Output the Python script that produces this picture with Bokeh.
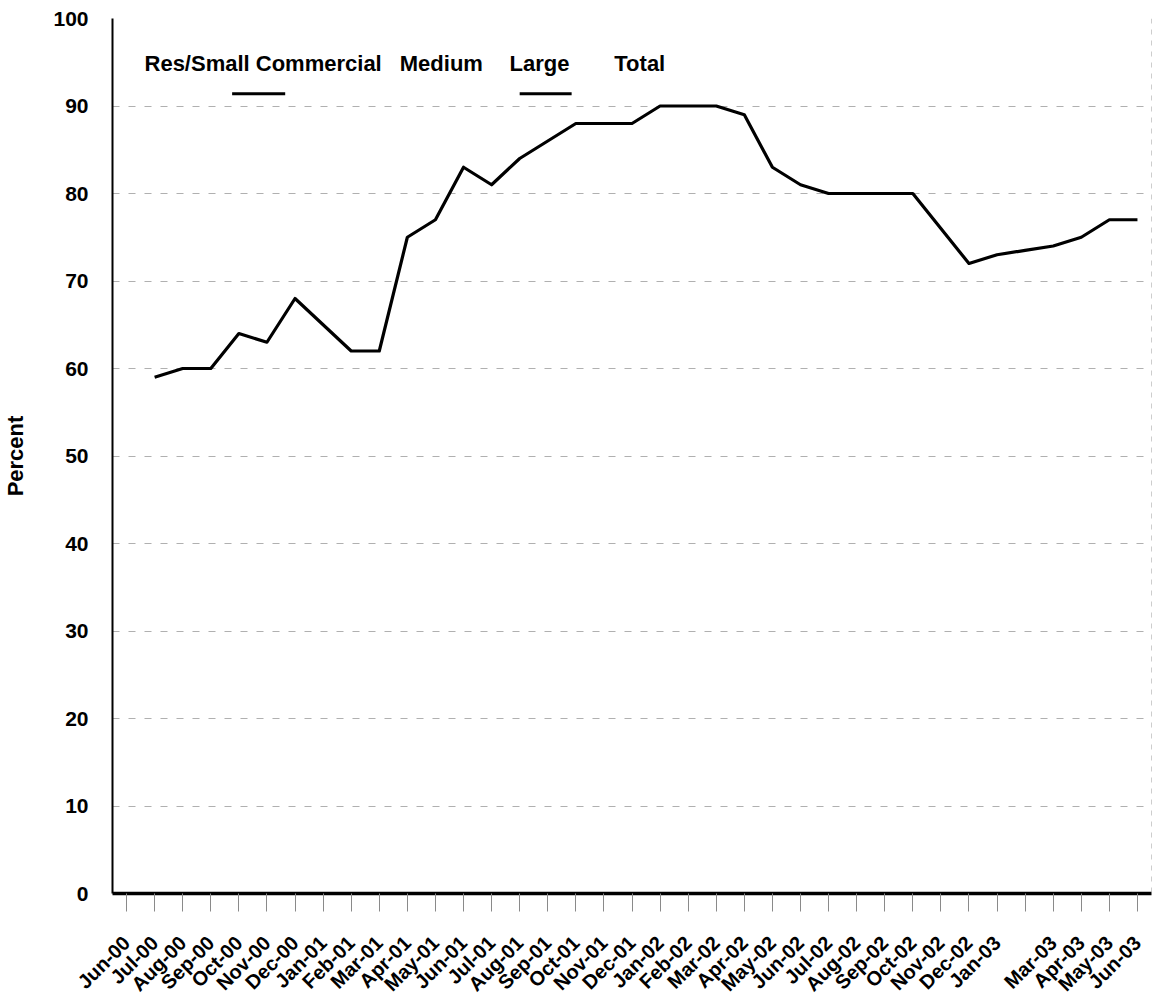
import math
from bokeh.plotting import figure
from bokeh.models import FixedTicker, Label, Span
from bokeh.embed import file_html
from bokeh.resources import INLINE

# Monthly share, percent (Jun-00 has no reading)
months = ["Jun-00", "Jul-00", "Aug-00", "Sep-00", "Oct-00", "Nov-00", "Dec-00",
          "Jan-01", "Feb-01", "Mar-01", "Apr-01", "May-01", "Jun-01", "Jul-01",
          "Aug-01", "Sep-01", "Oct-01", "Nov-01", "Dec-01", "Jan-02", "Feb-02",
          "Mar-02", "Apr-02", "May-02", "Jun-02", "Jul-02", "Aug-02", "Sep-02",
          "Oct-02", "Nov-02", "Dec-02", "Jan-03", "Feb-03", "Mar-03", "Apr-03",
          "May-03", "Jun-03"]
total = [float("nan"), 59, 60, 60, 64, 63, 68,
         65, 62, 62, 75, 77, 83, 81,
         84, 86, 88, 88, 88, 90, 90,
         90, 89, 83, 81, 80, 80, 80,
         80, 76, 72, 73, 73.5, 74, 75,
         77, 77]
# Feb-03 is left without a label on the axis
hidden_labels = ["Feb-03"]
legend_names = ["Res/Small Commercial", "Medium", "Large", "Total"]
y_ticks = list(range(0, 101, 10))

FONT = "Liberation Sans"
xs = list(range(len(months)))

p = figure(width=1157, height=1006, output_backend="svg", toolbar_location=None,
           x_range=(-0.5, len(months) - 0.5), y_range=(0, 100),
           min_border_left=110, min_border_right=6, min_border_top=18,
           min_border_bottom=113)
p.outline_line_color = None
p.background_fill_color = "white"
p.border_fill_color = "white"

# total series
p.line(xs, total, line_color="black", line_width=3.2, line_join="round")

# x axis: one tick per month, labels slanted
xa = p.xaxis[0]
xa.ticker = FixedTicker(ticks=xs)
xa.major_label_overrides = {i: ("" if m in hidden_labels else m) for i, m in enumerate(months)}
xa.major_label_orientation = math.pi / 4
xa.major_label_text_font = FONT
xa.major_label_text_font_style = "bold"
xa.major_label_text_font_size = "20px"
xa.major_label_text_color = "black"
xa.major_label_standoff = 28
xa.axis_line_color = "black"
xa.axis_line_width = 3.5
xa.major_tick_in = 0
xa.major_tick_out = 18
xa.major_tick_line_color = "#8a8a8a"
xa.major_tick_line_width = 1
xa.minor_tick_line_color = None

# y axis
ya = p.yaxis[0]
ya.ticker = FixedTicker(ticks=y_ticks)
ya.axis_label = "Percent"
ya.axis_label_text_color = "black"
ya.axis_label_text_font = FONT
ya.axis_label_text_font_style = "bold"
ya.axis_label_text_font_size = "22px"
ya.axis_label_standoff = 22
ya.major_label_text_font = FONT
ya.major_label_text_font_style = "bold"
ya.major_label_text_font_size = "21px"
ya.major_label_text_color = "black"
ya.major_label_standoff = 24
ya.major_tick_in = 0
ya.major_tick_out = 0
ya.minor_tick_line_color = None
ya.axis_line_color = "black"
ya.axis_line_width = 2

# faint dashed gridlines
p.xgrid.grid_line_color = None
p.ygrid.ticker = FixedTicker(ticks=y_ticks)
p.ygrid.grid_line_color = "#9c9c9c"
p.ygrid.grid_line_width = 1
p.ygrid.grid_line_dash = "7 9"
p.ygrid.grid_line_alpha = 0.8

# faint right border
p.add_layout(Span(location=len(months) - 0.5, dimension="height",
                  line_color="#9c9c9c", line_width=1, line_dash="5 6"))

# legend row with its two visible line samples
legend_x = [0.64, 9.73, 13.64, 17.37]
for name, lx in zip(legend_names, legend_x):
    p.add_layout(Label(x=lx, y=94.86, text=name, text_font=FONT,
                       text_font_style="bold", text_font_size="22px",
                       text_color="black", text_baseline="alphabetic"))
p.segment(x0=[3.76, 14.0], y0=[91.4, 91.4], x1=[5.65, 15.85], y1=[91.4, 91.4],
          line_color="black", line_width=3)

open("out.html", "w").write(file_html(p, INLINE))
